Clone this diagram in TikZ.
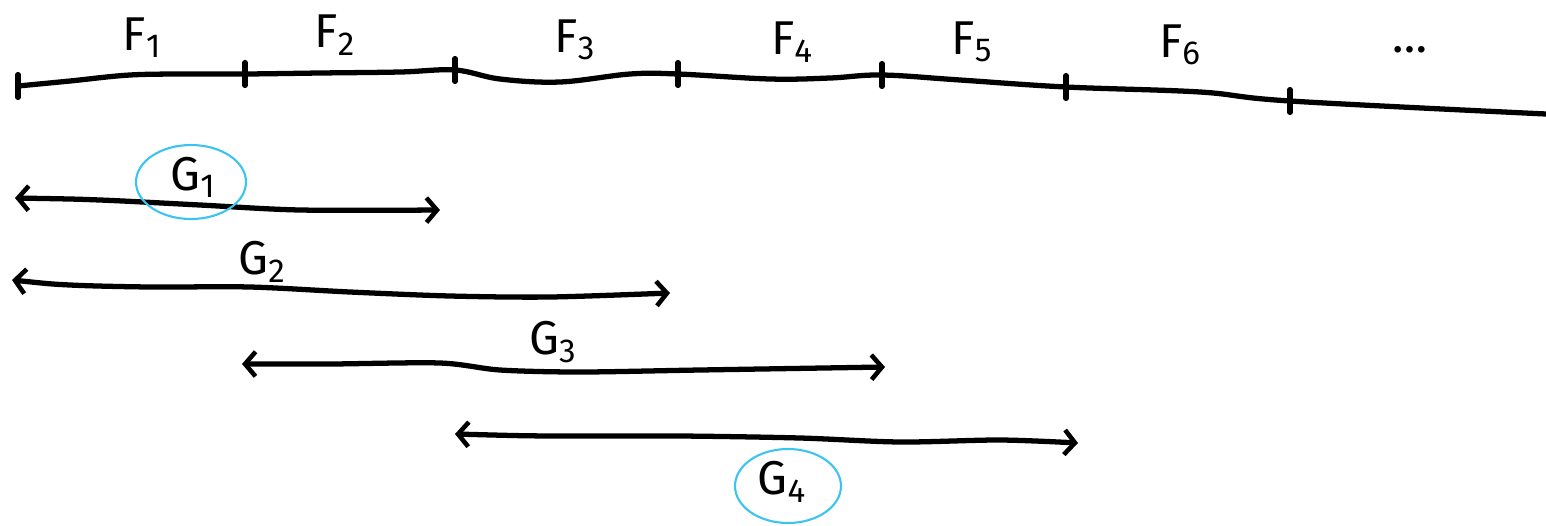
\documentclass[tikz,border=0pt]{standalone}
\usepackage{fontspec}
\setmainfont{Fira Sans}
\usetikzlibrary{arrows.meta}
\definecolor{circblue}{HTML}{3CC4F0}
\tikzset{
  ink/.style={line width=3pt, line cap=round, line join=round, black},
  span/.style={ink, {Straight Barb[length=6pt,width=14pt,line width=2.6pt]}-{Straight Barb[length=6pt,width=14pt,line width=2.6pt]}},
  tickmark/.style={ink},
  lbl/.style={font=\fontsize{27}{30}\selectfont, inner sep=0pt},
  ring/.style={draw=circblue, line width=1.2pt},
}
\begin{document}
\begin{tikzpicture}[x=0.02cm,y=-0.02cm]
\useasboundingbox (0,0) rectangle (1546,525);
% timeline points
\coordinate (t0) at (18,86);
\coordinate (t1) at (245,74);
\coordinate (t2) at (455,70);
\coordinate (t3) at (678,74);
\coordinate (t4) at (882,75);
\coordinate (t5) at (1066,87);
\coordinate (t6) at (1290,101);
\coordinate (tend) at (1546,114);
\draw[ink] plot[smooth, tension=0.6] coordinates {(t0) (70,81) (130,75) (190,74) (t1) (320,73) (400,72) (t2) (500,79) (560,82) (630,74) (t3) (770,79) (830,78) (t4) (960,80) (t5) (1200,92) (t6) (tend)};
\foreach \t in {t0,t1,t2,t3,t4,t5,t6}
  \draw[tickmark] ([yshift=-6.5pt]\t) -- ([yshift=6.5pt]\t);
% labels
\node[lbl] (f1) at (142,38) {F\textsubscript{1}};
\node[lbl] (f2) at (335,35) {F\textsubscript{2}};
\node[lbl] (f3) at (575,40) {F\textsubscript{3}};
\node[lbl] (f4) at (792,42) {F\textsubscript{4}};
\node[lbl] (f5) at (972,42) {F\textsubscript{5}};
\node[lbl] (f6) at (1180,45) {F\textsubscript{6}};
\node[lbl] (dots) at (1410,50) {\dots};
% spans
\coordinate (g1l) at (15,198);
\coordinate (g1r) at (440,210);
\draw[span] plot[smooth, tension=0.5] coordinates {(g1l) (100,200) (200,205) (300,210) (g1r)};
\node[lbl] (g1) at (193,177) {G\textsubscript{1}};
\draw[ring] (191,182) ellipse[x radius=55, y radius=37];

\coordinate (g2l) at (12,280);
\coordinate (g2r) at (670,293);
\draw[span] plot[smooth, tension=0.5] coordinates {(g2l) (70,285) (150,287) (250,287) (350,292) (450,296) (550,297) (g2r)};
\node[lbl] (g2) at (262,262) {G\textsubscript{2}};

\coordinate (g3l) at (242,364);
\coordinate (g3r) at (885,367);
\draw[span] plot[smooth, tension=0.5] coordinates {(g3l) (330,364) (440,363) (500,370) (580,372) (700,370) (g3r)};
\node[lbl] (g3) at (553,342) {G\textsubscript{3}};

\coordinate (g4l) at (455,434);
\coordinate (g4r) at (1078,443);
\draw[span] plot[smooth, tension=0.5] coordinates {(g4l) (550,436) (680,436) (800,438) (900,442) (1000,440) (g4r)};
\node[lbl] (g4) at (782,482) {G\textsubscript{4}};
\draw[ring] (788,486) ellipse[x radius=53, y radius=37];
\end{tikzpicture}
\end{document}
